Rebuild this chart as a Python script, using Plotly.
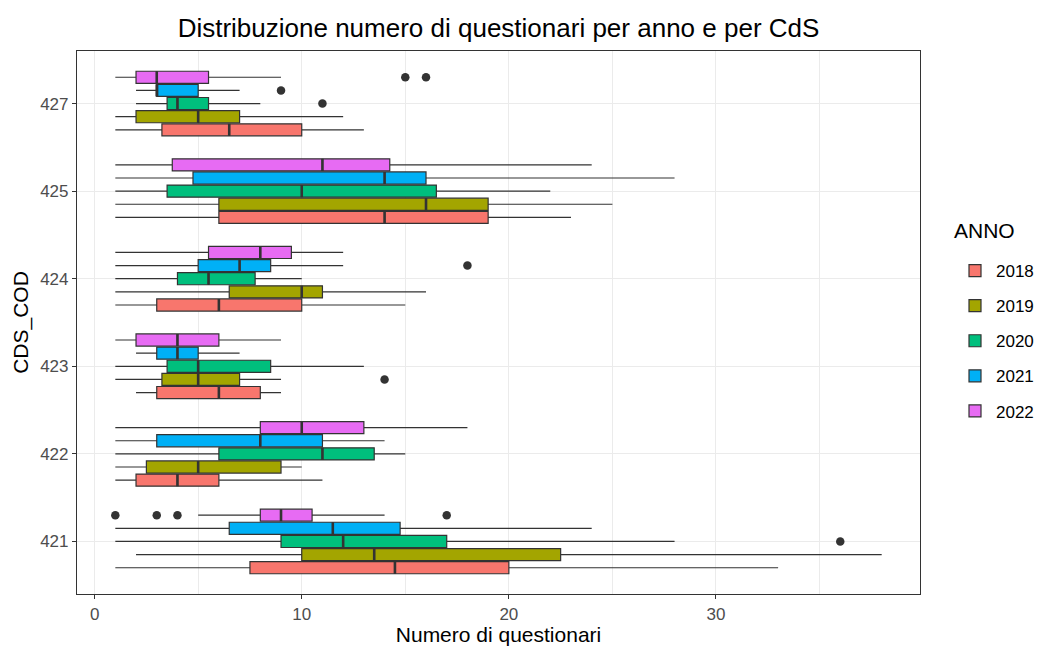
import plotly.graph_objects as go

# Categories (CdS codes) and years
CDS = ['421', '422', '423', '424', '425', '427']
ANNI = ['2018', '2019', '2020', '2021', '2022']

# Box statistics per year, one value per CdS (order as CDS)
LOWER = {
    '2018': [1, 1, 2, 1, 1, 1],
    '2019': [2, 1, 1, 1, 1, 1],
    '2020': [1, 1, 1, 1, 1, 2],
    '2021': [1, 1, 2, 1, 1, 2],
    '2022': [5, 1, 1, 1, 1, 1],
}
Q1 = {
    '2018': [7.5, 2, 3, 3, 6, 3.25],
    '2019': [10, 2.5, 3.25, 6.5, 6, 2],
    '2020': [9, 6, 3.5, 4, 3.5, 3.5],
    '2021': [6.5, 3, 3, 5, 4.75, 3],
    '2022': [8, 8, 2, 5.5, 3.75, 2],
}
MEDIAN = {
    '2018': [14.5, 4, 6, 6, 14, 6.5],
    '2019': [13.5, 5, 5, 10, 16, 5],
    '2020': [12, 11, 5, 5.5, 10, 4],
    '2021': [11.5, 8, 4, 7, 14, 3],
    '2022': [9, 10, 4, 8, 11, 3],
}
Q3 = {
    '2018': [20, 6, 8, 10, 19, 10],
    '2019': [22.5, 9, 7, 11, 19, 7],
    '2020': [17, 13.5, 8.5, 7.75, 16.5, 5.5],
    '2021': [14.75, 11, 5, 8.5, 16, 5],
    '2022': [10.5, 13, 6, 9.5, 14.25, 5.5],
}
UPPER = {
    '2018': [33, 11, 9, 15, 23, 13],
    '2019': [38, 10, 9, 16, 25, 12],
    '2020': [28, 15, 13, 10, 22, 8],
    '2021': [24, 14, 7, 12, 28, 7],
    '2022': [14, 18, 9, 12, 24, 9],
}

# Outliers: CdS and value per year
OUT_CDS = {
    '2019': ['423'],
    '2020': ['421', '427'],
    '2021': ['424', '427'],
    '2022': ['421', '421', '421', '421', '427', '427'],
}
OUT_VAL = {
    '2019': [14],
    '2020': [36, 11],
    '2021': [18, 9],
    '2022': [1, 3, 4, 17, 15, 16],
}

COLORS = {
    '2018': '#F8766D',
    '2019': '#A3A500',
    '2020': '#00BF7D',
    '2021': '#00B0F6',
    '2022': '#E76BF3',
}
DARK = '#333333'
CLEAR = 'rgba(0,0,0,0)'

fig = go.Figure()

for anno in ANNI:
    fig.add_trace(go.Box(
        y=CDS,
        q1=Q1[anno],
        median=MEDIAN[anno],
        q3=Q3[anno],
        lowerfence=LOWER[anno],
        upperfence=UPPER[anno],
        orientation='h',
        name=anno,
        legendgroup=anno,
        offsetgroup=anno,
        fillcolor=COLORS[anno],
        line=dict(color=DARK, width=1.2),
        whiskerwidth=0,
        boxpoints=False,
    ))

# thicker median bar, like ggplot's fatten=2
for anno in ANNI:
    fig.add_trace(go.Box(
        y=CDS,
        q1=MEDIAN[anno],
        median=MEDIAN[anno],
        q3=MEDIAN[anno],
        lowerfence=MEDIAN[anno],
        upperfence=MEDIAN[anno],
        orientation='h',
        name=anno,
        legendgroup=anno,
        offsetgroup=anno,
        showlegend=False,
        fillcolor=CLEAR,
        line=dict(color=DARK, width=2.6),
        whiskerwidth=0,
        boxpoints=False,
        hoverinfo='skip',
    ))

# outlier points, drawn in the same dodge slot as their year
for anno in ANNI:
    if anno not in OUT_VAL:
        continue
    fig.add_trace(go.Box(
        x=OUT_VAL[anno],
        y=OUT_CDS[anno],
        orientation='h',
        name=anno,
        legendgroup=anno,
        offsetgroup=anno,
        showlegend=False,
        fillcolor=CLEAR,
        line=dict(color=CLEAR, width=0),
        whiskerwidth=0,
        boxpoints='all',
        pointpos=0,
        jitter=0,
        marker=dict(color=DARK, size=8.5, line=dict(width=0)),
    ))

fig.update_layout(
    boxmode='group',
    boxgap=0.25,
    boxgroupgap=0.08,
    width=1038,
    height=648,
    plot_bgcolor='white',
    paper_bgcolor='white',
    margin=dict(l=77, r=118, t=51, b=54, autoexpand=False),
    font=dict(family='Liberation Sans, Arial', color='black'),
    title=dict(
        text='Distribuzione numero di questionari per anno e per CdS',
        xref='paper',
        x=0.5,
        xanchor='center',
        y=1 - 28 / 648,
        yanchor='middle',
        font=dict(size=26, color='black'),
    ),
    legend=dict(
        font=dict(size=17),
        xref='container',
        yref='container',
        x=954 / 1038,
        xanchor='left',
        y=1 - 253 / 648,
        yanchor='top',
        tracegroupgap=10,
        itemwidth=32,
    ),
    annotations=[dict(
        text='ANNO',
        xref='paper',
        yref='paper',
        x=(952 - 77) / 843,
        xanchor='left',
        y=(594 - 230) / 543,
        yanchor='middle',
        showarrow=False,
        font=dict(size=21, color='black'),
    )],
)

fig.update_xaxes(
    range=[-0.85, 39.85],
    tickvals=[0, 10, 20, 30],
    ticks='outside',
    ticklen=4,
    tickcolor=DARK,
    tickfont=dict(size=17, color='#4D4D4D'),
    showgrid=True,
    gridcolor='#EBEBEB',
    gridwidth=1,
    minor=dict(tickvals=[5, 15, 25, 35], showgrid=True,
               gridcolor='#EBEBEB', gridwidth=0.6, ticks=''),
    zeroline=False,
    showline=True,
    linecolor=DARK,
    linewidth=1.2,
    mirror=True,
    automargin=False,
    title=dict(text='Numero di questionari', font=dict(size=21), standoff=4),
)

fig.update_yaxes(
    type='category',
    categoryorder='array',
    categoryarray=CDS,
    range=[-0.6, 5.6],
    ticks='outside',
    ticklen=4,
    tickcolor=DARK,
    tickfont=dict(size=17, color='#4D4D4D'),
    showgrid=True,
    gridcolor='#EBEBEB',
    gridwidth=1,
    zeroline=False,
    showline=True,
    linecolor=DARK,
    linewidth=1.2,
    mirror=True,
    automargin=False,
    title=dict(text='CDS_COD', font=dict(size=21), standoff=5),
)

fig.write_html('out.html', config={'displayModeBar': False},
               post_script="document.body.style.margin='0px';")
